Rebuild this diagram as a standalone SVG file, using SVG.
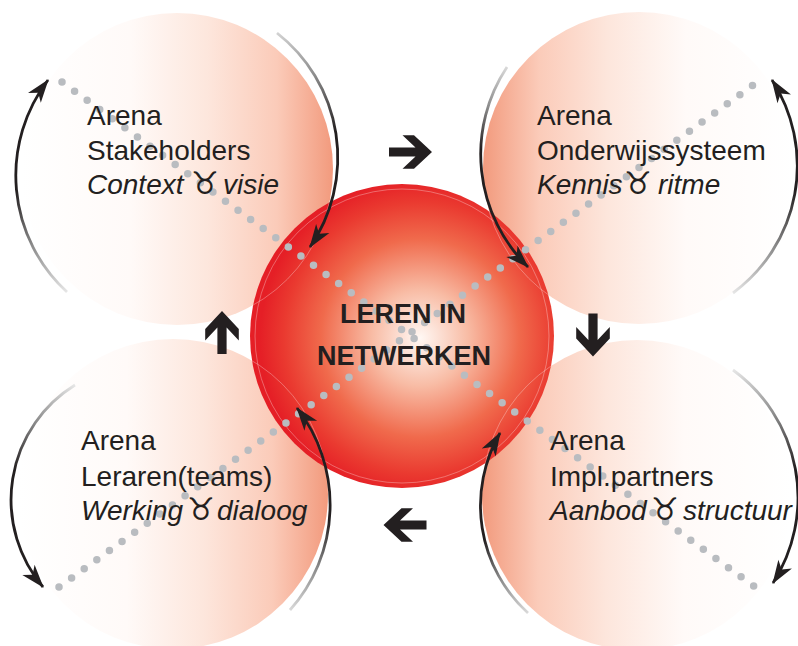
<svg xmlns="http://www.w3.org/2000/svg" xmlns:xlink="http://www.w3.org/1999/xlink" width="798" height="646" viewBox="0 0 798 646">
  <style>
    .lbl { font-family: "Liberation Sans", Arial, sans-serif; font-size: 28px; fill: #231f20; }
    .it { font-style: italic; }
    .sym { font-family: "DejaVu Sans", sans-serif; font-style: normal; font-size: 31px; }
    .core { font-family: "Liberation Sans", Arial, sans-serif; font-weight: bold; font-size: 27px; fill: #231f20; text-anchor: middle; }
    .dots { fill: none; stroke: #b9bcc0; stroke-width: 7.5; stroke-linecap: round; stroke-dasharray: 0 15.56; }
    .cycle { fill: none; stroke-width: 2.8; marker-end: url(#head); }
    .ghost { fill: none; stroke: #ffffff; stroke-opacity: 0.35; stroke-width: 0.9; }
    .bold { fill: #231f20; }
  </style>
  <defs>
    <linearGradient id="fadeRight" x1="0" y1="0" x2="1" y2="0">
      <stop offset="0" stop-color="#ffffff"/>
      <stop offset="0.35" stop-color="#fffaf8"/>
      <stop offset="0.6" stop-color="#fde6dc"/>
      <stop offset="0.82" stop-color="#fbcbb9"/>
      <stop offset="1" stop-color="#f29a7d"/>
    </linearGradient>
    <linearGradient id="fadeLeft" x1="1" y1="0" x2="0" y2="0">
      <stop offset="0" stop-color="#ffffff"/>
      <stop offset="0.35" stop-color="#fffaf8"/>
      <stop offset="0.6" stop-color="#fde6dc"/>
      <stop offset="0.82" stop-color="#fbcbb9"/>
      <stop offset="1" stop-color="#f29a7d"/>
    </linearGradient>
    <radialGradient id="core" cx="420" cy="338" r="160" gradientUnits="userSpaceOnUse">
      <stop offset="0" stop-color="#fff8f4"/>
      <stop offset="0.3" stop-color="#f8bca5"/>
      <stop offset="0.62" stop-color="#f06a4c"/>
      <stop offset="0.85" stop-color="#ea3a30"/>
      <stop offset="1" stop-color="#e51f26"/>
    </radialGradient>
    <clipPath id="coreClip">
      <circle cx="402" cy="336" r="152"/>
    </clipPath>
    <!-- stroke fades for the cycle arcs: light at the tail, dark toward the head -->
    <linearGradient id="sTL1" gradientUnits="userSpaceOnUse" x1="67" y1="292" x2="17" y2="190">
      <stop offset="0" stop-color="#e6e6e6"/><stop offset="0.5" stop-color="#8c8c8c"/><stop offset="1" stop-color="#231f20"/>
    </linearGradient>
    <linearGradient id="sTL2" gradientUnits="userSpaceOnUse" x1="272" y1="30" x2="332" y2="135">
      <stop offset="0" stop-color="#d9d9d9"/><stop offset="0.5" stop-color="#8c8c8c"/><stop offset="1" stop-color="#231f20"/>
    </linearGradient>
    <linearGradient id="sTR1" gradientUnits="userSpaceOnUse" x1="507" y1="67" x2="483" y2="150">
      <stop offset="0" stop-color="#d9d9d9"/><stop offset="0.5" stop-color="#8c8c8c"/><stop offset="1" stop-color="#231f20"/>
    </linearGradient>
    <linearGradient id="sTR2" gradientUnits="userSpaceOnUse" x1="733" y1="293" x2="795" y2="190">
      <stop offset="0" stop-color="#e6e6e6"/><stop offset="0.5" stop-color="#8c8c8c"/><stop offset="1" stop-color="#231f20"/>
    </linearGradient>
    <linearGradient id="sBL1" gradientUnits="userSpaceOnUse" x1="75" y1="385" x2="14" y2="470">
      <stop offset="0" stop-color="#e6e6e6"/><stop offset="0.5" stop-color="#8c8c8c"/><stop offset="1" stop-color="#231f20"/>
    </linearGradient>
    <linearGradient id="sBL2" gradientUnits="userSpaceOnUse" x1="290" y1="610" x2="328" y2="520">
      <stop offset="0" stop-color="#d9d9d9"/><stop offset="0.5" stop-color="#8c8c8c"/><stop offset="1" stop-color="#231f20"/>
    </linearGradient>
    <linearGradient id="sBR1" gradientUnits="userSpaceOnUse" x1="528" y1="613" x2="483" y2="540">
      <stop offset="0" stop-color="#d9d9d9"/><stop offset="0.5" stop-color="#8c8c8c"/><stop offset="1" stop-color="#231f20"/>
    </linearGradient>
    <linearGradient id="sBR2" gradientUnits="userSpaceOnUse" x1="733" y1="370" x2="796" y2="470">
      <stop offset="0" stop-color="#e6e6e6"/><stop offset="0.5" stop-color="#8c8c8c"/><stop offset="1" stop-color="#231f20"/>
    </linearGradient>
    <marker id="head" markerUnits="userSpaceOnUse" markerWidth="30" markerHeight="30" viewBox="-24 -12 28 24" refX="0" refY="0" orient="auto">
      <path d="M1,0 L-21,-7.5 L-15,0 L-21,7.5 Z" fill="#231f20"/>
    </marker>
    <!-- heavy block arrow, pointing right, centred on the origin -->
    <polygon id="blockArrow" points="-21.5,-4.6 5,-4.6 -8,-16.8 3.5,-16.8 21.5,0 3.5,16.8 -8,16.8 5,4.6 -21.5,4.6"/>
  </defs>

  <rect width="798" height="646" fill="#ffffff"/>

  <!-- the four arenas -->
  <g id="arena-stakeholders">
    <circle cx="177" cy="169" r="156" fill="url(#fadeRight)"/>
  </g>
  <g id="arena-onderwijssysteem">
    <circle cx="639" cy="168" r="156" fill="url(#fadeLeft)"/>
  </g>
  <g id="arena-leraren">
    <circle cx="173" cy="494" r="155" fill="url(#fadeRight)"/>
  </g>
  <g id="arena-implpartners">
    <circle cx="637" cy="495" r="155" fill="url(#fadeLeft)"/>
  </g>

  <!-- central sphere -->
  <g id="leren-in-netwerken">
    <circle cx="402" cy="336" r="152" fill="url(#core)"/>
    <circle class="ghost" cx="402" cy="336" r="147"/>
    <g clip-path="url(#coreClip)">
      <circle class="ghost" cx="177" cy="169" r="156"/>
      <circle class="ghost" cx="639" cy="168" r="156"/>
      <circle class="ghost" cx="173" cy="494" r="155"/>
      <circle class="ghost" cx="637" cy="495" r="155"/>
    </g>
  </g>

  <!-- connectors -->
  <g id="connectors">
    <!-- dotted diagonals -->
    <line class="dots" x1="62" y1="82" x2="755" y2="587"/>
    <line class="dots" x1="59" y1="587" x2="756" y2="83"/>

    <!-- cycle arcs around each arena -->
    <path class="cycle" stroke="url(#sTL1)" d="M67,292 A158,158 0 0 1 48,80"/>
    <path class="cycle" stroke="url(#sTL2)" d="M277,33 A158,158 0 0 1 310,247"/>
    <path class="cycle" stroke="url(#sTR1)" d="M507,67 A158,158 0 0 0 528,267"/>
    <path class="cycle" stroke="url(#sTR2)" d="M733,293 A158,158 0 0 0 772,80"/>
    <path class="cycle" stroke="url(#sBL1)" d="M75,385 A135,135 0 0 0 43,587"/>
    <path class="cycle" stroke="url(#sBL2)" d="M290,610 A158,158 0 0 0 297,408"/>
    <path class="cycle" stroke="url(#sBR1)" d="M528,613 A145,145 0 0 1 500,433"/>
    <path class="cycle" stroke="url(#sBR2)" d="M733,370 A158,158 0 0 1 773,583"/>

    <!-- block arrows between arenas -->
    <use class="bold" xlink:href="#blockArrow" href="#blockArrow" transform="translate(410.5,152)"/>
    <use class="bold" xlink:href="#blockArrow" href="#blockArrow" transform="translate(593,335) rotate(90)"/>
    <use class="bold" xlink:href="#blockArrow" href="#blockArrow" transform="translate(405,525) rotate(180)"/>
    <use class="bold" xlink:href="#blockArrow" href="#blockArrow" transform="translate(222,332.5) rotate(-90)"/>
  </g>

  <!-- labels -->
  <g id="label-stakeholders">
    <text class="lbl" x="87" y="125">Arena</text>
    <text class="lbl" x="87" y="160">Stakeholders</text>
    <text class="lbl it" y="194"><tspan x="87">Context</tspan><tspan class="sym" x="191">♉</tspan><tspan x="223">visie</tspan></text>
  </g>
  <g id="label-onderwijssysteem">
    <text class="lbl" x="537" y="125">Arena</text>
    <text class="lbl" x="537" y="160">Onderwijssysteem</text>
    <text class="lbl it" y="194"><tspan x="537">Kennis</tspan><tspan class="sym" x="624">♉</tspan><tspan x="658">ritme</tspan></text>
  </g>
  <g id="label-leraren">
    <text class="lbl" x="81" y="450">Arena</text>
    <text class="lbl" x="81" y="486">Leraren(teams)</text>
    <text class="lbl it" y="520"><tspan x="81">Werking</tspan><tspan class="sym" x="187">♉</tspan><tspan x="217">dialoog</tspan></text>
  </g>
  <g id="label-implpartners">
    <text class="lbl" x="550" y="450">Arena</text>
    <text class="lbl" x="550" y="486">Impl.partners</text>
    <text class="lbl it" y="520"><tspan x="550">Aanbod</tspan><tspan class="sym" x="651">♉</tspan><tspan x="683">structuur</tspan></text>
  </g>
  <g id="label-core">
    <text class="core" x="403" y="323">LEREN IN</text>
    <text class="core" x="404" y="365">NETWERKEN</text>
  </g>
</svg>
